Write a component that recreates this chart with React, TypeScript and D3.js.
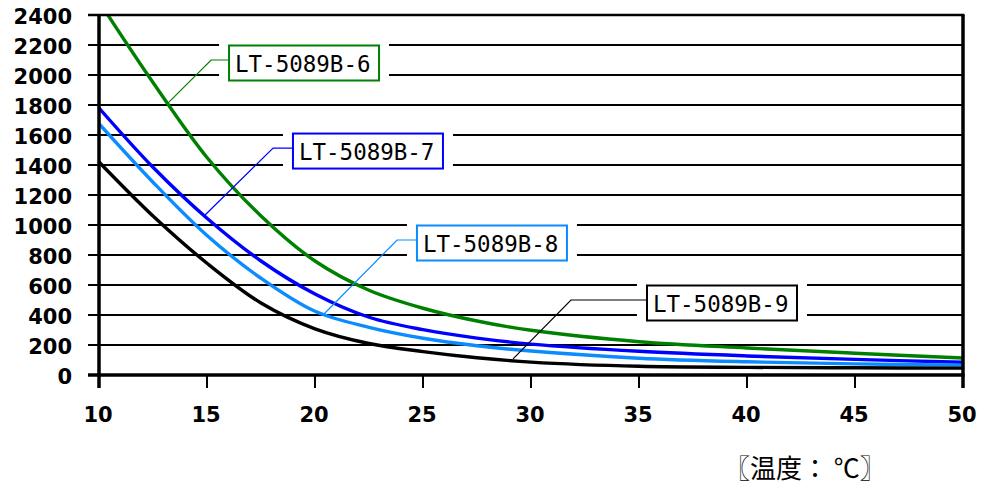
import React from "react";
import * as d3 from "d3";

const temps = [10, 12.5, 15, 17.5, 20, 22.5, 25, 27.5, 30, 35, 40, 45, 50];
const seriesNames = ["LT-5089B-6", "LT-5089B-7", "LT-5089B-8", "LT-5089B-9"];
const seriesColors = ["#008000", "#0000ff", "#0a8cff", "#000000"];
const green6 = [2490, 1950, 1450, 1060, 760, 565, 445, 360, 298, 222, 180, 145, 113];
const blue7 = [1780, 1385, 1045, 760, 540, 385, 302, 246, 206, 158, 127, 104, 85];
const lblue8 = [1675, 1285, 930, 645, 425, 318, 245, 195, 160, 112, 88, 74, 66];
const black9 = [1420, 1060, 745, 480, 308, 210, 156, 115, 86, 58, 51, 48, 46];
const seriesValues = [green6, blue7, lblue8, black9];

const yTicks = [0, 200, 400, 600, 800, 1000, 1200, 1400, 1600, 1800, 2000, 2200, 2400];
const xTicks = [10, 15, 20, 25, 30, 35, 40, 45, 50];
const axisTitle = "〖温度： ℃〗";

// callout positions in data units: anchor on curve, elbow, box left/center
const calloutAnchorT = [13.19, 14.91, 20.37, 29.17];
const calloutAnchorV = [1813, 1067, 400, 107];
const calloutElbowT = [15.19, 18.06, 23.8, 31.85];
const calloutBoxT = [16.02, 18.98, 24.72, 35.37];
const calloutBoxV = [2100, 1513, 900, 500];

const W = 987;
const H = 486;
const left = 99;
const right = 963;
const top = 15;
const bottom = 375;

export default function App() {
  const x = d3.scaleLinear().domain([10, 50]).range([left, right]);
  const y = d3.scaleLinear().domain([0, 2400]).range([bottom, top]);
  const line = d3
    .line<number>()
    .x((_, i) => x(temps[i]))
    .y((d) => y(d))
    .curve(d3.curveCatmullRom.alpha(0.5));

  const boxW = 150;
  const boxH = 35;
  const padX = 10;
  const padY = 8;

  return (
    <svg
      width={W}
      height={H}
      style={{ position: "absolute", left: 0, top: 0, background: "#fff" }}
    >
      <defs>
        <clipPath id="plot">
          <rect x={left} y={top} width={right - left} height={bottom - top} />
        </clipPath>
      </defs>
      <rect x={0} y={0} width={W} height={H} fill="#fff" />
      {yTicks.map((v) => (
        <line
          key={"g" + v}
          x1={left - 11}
          x2={right}
          y1={y(v)}
          y2={y(v)}
          stroke="#000"
          strokeWidth={2}
        />
      ))}
      {yTicks.map((v) => (
        <text
          key={"yl" + v}
          x={72}
          y={y(v) + 8.5}
          textAnchor="end"
          fontFamily="DejaVu Sans"
          fontWeight="bold"
          fontSize={21}
          fill="#000"
        >
          {v}
        </text>
      ))}
      {xTicks.map((t) => (
        <line
          key={"xt" + t}
          x1={x(t)}
          x2={x(t)}
          y1={bottom}
          y2={bottom + 13}
          stroke="#000"
          strokeWidth={2}
        />
      ))}
      {xTicks.map((t) => (
        <text
          key={"xl" + t}
          x={x(t) - 1}
          y={422}
          textAnchor="middle"
          fontFamily="DejaVu Sans"
          fontWeight="bold"
          fontSize={21}
          fill="#000"
        >
          {t}
        </text>
      ))}
      {seriesNames.map((n, i) => (
        <rect
          key={"bg" + n}
          x={x(calloutBoxT[i]) - padX}
          y={y(calloutBoxV[i]) - boxH / 2 - padY}
          width={boxW + 2 * padX}
          height={boxH + 2 * padY}
          fill="#fff"
        />
      ))}
      <g clipPath="url(#plot)">
        {seriesValues.map((vals, i) => (
          <path
            key={"c" + i}
            d={line(vals) || ""}
            fill="none"
            stroke={seriesColors[i]}
            strokeWidth={3.4}
          />
        ))}
      </g>
      <line x1={left} x2={left} y1={top} y2={bottom + 13} stroke="#000" strokeWidth={3.5} />
      <line x1={right} x2={right} y1={top} y2={bottom + 13} stroke="#000" strokeWidth={3.5} />
      <line x1={left - 11} x2={right + 1.5} y1={bottom} y2={bottom} stroke="#000" strokeWidth={3.5} />
      <line x1={left - 11} x2={right + 1.5} y1={top} y2={top} stroke="#000" strokeWidth={2.5} />
      {seriesNames.map((n, i) => {
        const bx = x(calloutBoxT[i]);
        const by = y(calloutBoxV[i]);
        return (
          <g key={"co" + n}>
            <polyline
              points={`${x(calloutAnchorT[i])},${y(calloutAnchorV[i])} ${x(calloutElbowT[i])},${by} ${bx},${by}`}
              fill="none"
              stroke={seriesColors[i]}
              strokeWidth={1.2}
            />
            <rect
              x={bx}
              y={by - boxH / 2 + 3}
              width={boxW}
              height={boxH}
              fill="#fff"
              stroke={seriesColors[i]}
              strokeWidth={2}
            />
            <text
              x={bx + 6}
              y={by + 11.5}
              fontFamily="DejaVu Sans Mono"
              fontSize={22.5}
              fill="#000"
            >
              {n}
            </text>
          </g>
        );
      })}
      <text
        x={724}
        y={478}
        fontFamily="Noto Sans CJK JP"
        fontSize={26}
        fill="#000"
      >
        {axisTitle}
      </text>
    </svg>
  );
}
